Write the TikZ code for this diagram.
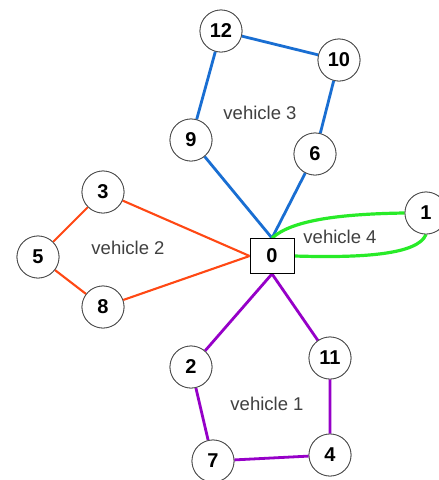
\documentclass[tikz,border=0pt]{standalone}
\usepackage{fontspec}
\setmainfont{Liberation Sans}
\begin{document}
\begin{tikzpicture}[x=1pt,y=-1pt,
  cust/.style={circle,draw=black!70,fill=white,line width=0.8pt,minimum size=42pt,inner sep=0pt,font=\fontsize{20}{20}\selectfont\bfseries},
  depot/.style={rectangle,draw=black,fill=white,line width=0.8pt,minimum width=44pt,minimum height=35pt,inner sep=0pt,font=\fontsize{20}{20}\selectfont\bfseries},
  lbl/.style={font=\fontsize{18.5}{19}\selectfont,text=black!75},
  route/.style={line width=2.8pt},
]
\definecolor{rblue}{RGB}{25,110,210}
\definecolor{rred}{RGB}{255,72,20}
\definecolor{rpurple}{RGB}{150,0,200}
\definecolor{rgreen}{RGB}{40,235,40}
\fill[white] (0,0) rectangle (439,480);
\useasboundingbox (0,0) rectangle (439,480);

% depot and customers
\node[depot] (n0) at (272,256) {0};
\node[cust] (n12) at (221,31) {12};
\node[cust] (n10) at (339,60) {10};
\node[cust] (n9) at (191,140) {9};
\node[cust] (n6) at (315,154) {6};
\node[cust] (n3) at (103,192) {3};
\node[cust] (n5) at (38,257) {5};
\node[cust] (n8) at (103,307) {8};
\node[cust] (n1) at (426,213) {1};
\node[cust] (n2) at (191,367) {2};
\node[cust] (n11) at (330,358) {11};
\node[cust] (n7) at (213,461) {7};
\node[cust] (n4) at (330,455) {4};

% routes
\draw[route,rblue] (n0.north) -- (n9) -- (n12) -- (n10) -- (n6) -- (n0.north);
\draw[route,rred,line width=2.1pt] (n0.west) -- (n3) -- (n5) -- (n8) -- (n0.west);
\draw[route,rpurple] (n0.south) -- (n2) -- (n7) -- (n4) -- (n11) -- (n0.south);
\draw[route,rgreen,line width=3.2pt] (n0.north) .. controls (292,220) and (340,214) .. (n1.west);
\draw[route,rgreen,line width=3.2pt] (n0.east) .. controls (360,258) and (418,255) .. (n1.south);

% redraw nodes on top of the route lines
\node[depot] at (n0) {0};
\foreach \n/\t in {n12/12,n10/10,n9/9,n6/6,n3/3,n5/5,n8/8,n1/1,n2/2,n11/11,n7/7,n4/4}
  \node[cust] at (\n) {\t};

% route labels
\node[lbl] (v3) at (260,113) {vehicle 3};
\node[lbl] (v2) at (128,248) {vehicle 2};
\node[lbl] (v4) at (340,237) {vehicle 4};
\node[lbl] (v1) at (267,404) {vehicle 1};
\end{tikzpicture}
\end{document}
